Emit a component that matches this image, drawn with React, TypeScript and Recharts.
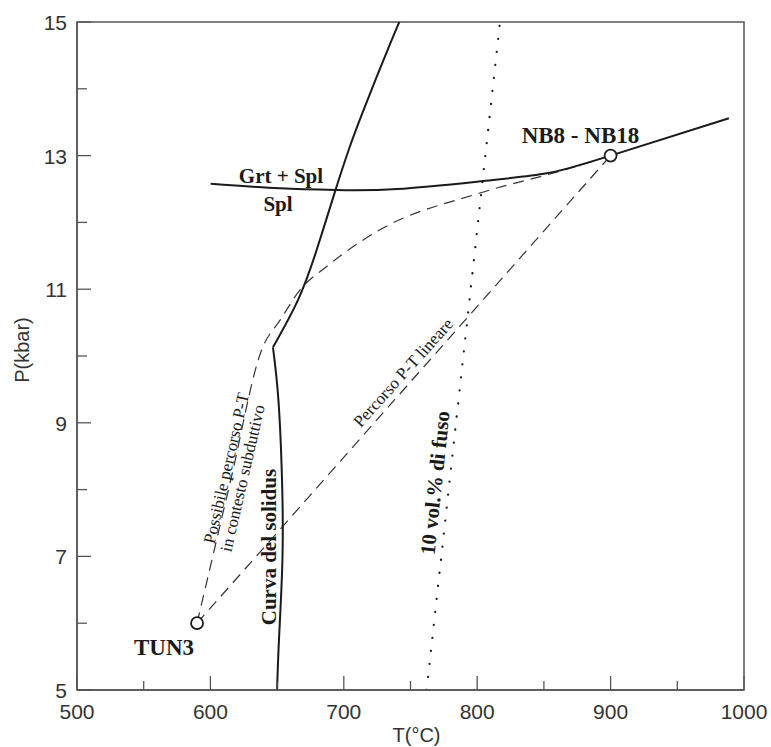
import { ComposedChart, Line, XAxis, YAxis, ReferenceDot, ReferenceArea } from 'recharts';

const T_TICKS = [500, 550, 600, 650, 700, 750, 800, 850, 900, 950, 1000];
const P_TICKS = [5, 6, 7, 8, 9, 10, 11, 12, 13, 14, 15];

// solidus: near-vertical lower branch, then the kinked upper branch
const solidusLowT = [650, 651.4, 654.0, 653.7, 651.0, 646.9];
const solidusLowP = [5, 5.75, 6.95, 8.14, 9.34, 10.13];
const solidusHighT = [646.9, 665.7, 679.7, 693.4, 704.1, 713.4, 723.3, 733.4, 741.6];
const solidusHighP = [10.13, 10.84, 11.59, 12.46, 13.11, 13.61, 14.11, 14.61, 15];

// Grt + Spl / Spl boundary
const grtSplT = [600.2, 652, 694.2, 740, 804.6, 852.1, 877, 900, 988.7];
const grtSplP = [12.58, 12.51, 12.485, 12.5, 12.62, 12.735, 12.86, 13.0, 13.56];

// 10 vol.% melt isopleth
const meltT = [762.1, 817.1];
const meltP = [5, 15];

// P-T paths
const subductT = [590, 615.2, 638.4, 652.7, 667.2, 687.2, 727.1, 802.1, 864.3, 900];
const subductP = [6, 8.14, 10.09, 10.55, 10.99, 11.34, 11.89, 12.44, 12.78, 13];
const linearT = [590, 900];
const linearP = [6, 13];

// samples
const sampleNames = ['TUN3', 'NB8 - NB18'];
const sampleT = [590, 900];
const sampleP = [6, 13];

const toPoints = (t: number[], p: number[]) => t.map((x, i) => ({ x, y: p[i] }));

const INK = '#1a1a1a';
const FRAME = '#555';
const SANS = '"Liberation Sans", Arial, sans-serif';
const SERIF = '"Liberation Serif", "Times New Roman", serif';

// text annotations, placed in data units
const NOTES = [
  { text: 'NB8 - NB18', t: 877.4, p: 13.19, size: 23, bold: true, angle: 0, base: 'auto' },
  { text: 'TUN3', t: 565.2, p: 5.52, size: 23, bold: true, angle: 0, base: 'auto' },
  { text: 'Grt + Spl', t: 652.9, p: 12.59, size: 21, bold: true, angle: 0, base: 'auto' },
  { text: 'Spl', t: 650.7, p: 12.17, size: 21, bold: true, angle: 0, base: 'auto' },
  { text: 'Curva del solidus', t: 643.9, p: 7.14, size: 21, bold: true, angle: -90, base: 'central' },
  { text: '10 vol.% di fuso', t: 768.4, p: 8.1, size: 21, bold: true, angle: -84, base: 'central' },
  { text: 'Percorso P-T lineare', t: 744.6, p: 9.75, size: 17, bold: false, angle: -48, base: 'central' },
  { text: 'Possibile percorso P-T', t: 612.1, p: 8.32, size: 17, bold: false, angle: -77, base: 'central' },
  { text: 'in contesto subduttivo', t: 624.2, p: 8.17, size: 17, bold: false, angle: -77, base: 'central' },
];

const TickT = (props: any) => {
  const { x, y, payload } = props;
  const major = payload.value % 100 === 0;
  return (
    <g>
      <line x1={x} x2={x} y1={y} y2={y - (major ? 14 : 9)} stroke={FRAME} strokeWidth={1.3} />
      {major && (
        <text x={x} y={y + 29} textAnchor="middle" fontSize={21} fill="#333" fontFamily={SANS}>
          {payload.value}
        </text>
      )}
    </g>
  );
};

const TickP = (props: any) => {
  const { x, y, payload } = props;
  const major = payload.value % 2 === 1;
  return (
    <g>
      <line x1={x} x2={x + (major ? 14 : 10)} y1={y} y2={y} stroke={FRAME} strokeWidth={1.3} />
      {major && (
        <text x={x - 10} y={y + 8} textAnchor="end" fontSize={21} fill="#333" fontFamily={SANS}>
          {payload.value}
        </text>
      )}
    </g>
  );
};

export default function App() {
  return (
    <div style={{ position: 'absolute', left: 0, top: 0, width: 771, height: 747, background: '#fff' }}>
      <ComposedChart width={771} height={747} margin={{ top: 22, right: 27, bottom: 27, left: 17 }}>
        <XAxis
          type="number"
          dataKey="x"
          domain={[500, 1000]}
          ticks={T_TICKS}
          interval={0}
          tickSize={0}
          tickMargin={0}
          tickLine={false}
          tick={TickT}
          height={30}
          axisLine={{ stroke: FRAME, strokeWidth: 1.5 }}
          allowDataOverflow
          label={{
            content: (p: any) => (
              <text x={p.viewBox.x + p.viewBox.width / 2 + 6} y={742} textAnchor="middle" fontSize={20} fill="#333" fontFamily={SANS}>
                T(°C)
              </text>
            ),
          }}
        />
        <YAxis
          type="number"
          dataKey="y"
          domain={[5, 15]}
          ticks={P_TICKS}
          interval={0}
          tickSize={0}
          tickMargin={0}
          tickLine={false}
          tick={TickP}
          width={60}
          axisLine={{ stroke: FRAME, strokeWidth: 1.5 }}
          allowDataOverflow
          label={{
            content: (p: any) => (
              <text
                x={22}
                y={p.viewBox.y + p.viewBox.height / 2 - 6}
                transform={`rotate(-90 22 ${p.viewBox.y + p.viewBox.height / 2 - 6})`}
                textAnchor="middle"
                dominantBaseline="central"
                fontSize={20}
                fill="#333"
                fontFamily={SANS}
              >
                P(kbar)
              </text>
            ),
          }}
        />
        <ReferenceArea x1={500} x2={1000} y1={5} y2={15} fill="none" stroke={FRAME} strokeWidth={1.5} />

        <Line data={toPoints(meltT, meltP)} dataKey="y" type="linear" stroke={INK} strokeWidth={2.2}
          strokeDasharray="0.1 13" strokeLinecap="round" dot={false} isAnimationActive={false} />
        <Line data={toPoints(linearT, linearP)} dataKey="y" type="linear" stroke="#333" strokeWidth={1.2}
          strokeDasharray="11 7" dot={false} isAnimationActive={false} />
        <Line data={toPoints(subductT, subductP)} dataKey="y" type="monotone" stroke="#333" strokeWidth={1.2}
          strokeDasharray="11 7" dot={false} isAnimationActive={false} />
        <Line data={toPoints(solidusLowT, solidusLowP)} dataKey="y" type="natural" stroke={INK} strokeWidth={2}
          dot={false} isAnimationActive={false} />
        <Line data={toPoints(solidusHighT, solidusHighP)} dataKey="y" type="natural" stroke={INK} strokeWidth={2}
          dot={false} isAnimationActive={false} />
        <Line data={toPoints(grtSplT, grtSplP)} dataKey="y" type="natural" stroke={INK} strokeWidth={2}
          dot={false} isAnimationActive={false} />

        {sampleNames.map((n, i) => (
          <ReferenceDot key={n} x={sampleT[i]} y={sampleP[i]} r={6} fill="#fff" stroke={INK} strokeWidth={1.8} />
        ))}

        {NOTES.map((n) => (
          <ReferenceDot
            key={n.text}
            x={n.t}
            y={n.p}
            r={0}
            shape={(s: any) => (
              <text
                x={s.cx}
                y={s.cy}
                transform={n.angle ? `rotate(${n.angle} ${s.cx} ${s.cy})` : undefined}
                textAnchor="middle"
                dominantBaseline={n.base}
                fontSize={n.size}
                fontWeight={n.bold ? 'bold' : 'normal'}
                fill={INK}
                fontFamily={SERIF}
              >
                {n.text}
              </text>
            )}
          />
        ))}
      </ComposedChart>
    </div>
  );
}
